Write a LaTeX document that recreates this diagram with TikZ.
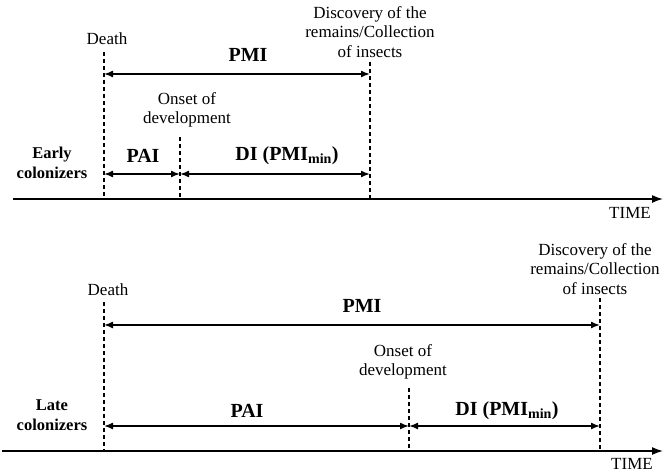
\documentclass[tikz,border=0pt]{standalone}
\usepackage{fontspec}
\setmainfont{Liberation Serif}
\usetikzlibrary{arrows.meta}
\begin{document}
\begin{tikzpicture}[x=1pt,y=-1pt,
  lbl/.style={font=\fontsize{17}{19.5}\selectfont, align=center, inner sep=0pt},
  big/.style={font=\fontsize{20}{23}\selectfont\bfseries, inner sep=0pt},
  grp/.style={font=\fontsize{16.5}{20}\selectfont\bfseries, align=center, inner sep=0pt},
  marker/.style={dash pattern=on 4pt off 3pt, line width=1.4pt},
  span/.style={{Latex[length=9pt,width=7pt]}-{Latex[length=9pt,width=7pt]}, line width=1.5pt},
  axisline/.style={-{Latex[length=11pt,width=8pt]}, line width=1.5pt}]
\useasboundingbox (0,0) rectangle (663,474);
\newcommand{\dilabel}{DI (PMI\textsubscript{\fontsize{14}{14}\selectfont min})}

% ---------- top panel: early colonizers ----------
\node[lbl] (death1) at (107,39) {Death};
\node[lbl] (disc1) at (370,32) {Discovery of the\\remains/Collection\\of insects};
\node[lbl] (onset1) at (187,110) {Onset of\\development};
\node[big] (pmi1) at (248,55) {PMI};
\node[big] (pai1) at (143,156) {PAI};
\node[big] (di1) at (287,156) {\dilabel};
\node[grp] (early) at (52,163) {Early\\colonizers};
\node[lbl] (time1) at (630,213) {TIME};

\coordinate (d1t) at (104,52);  \coordinate (d1b) at (104,199);
\coordinate (o1t) at (180,137); \coordinate (o1b) at (180,199);
\coordinate (c1t) at (370,62);  \coordinate (c1b) at (370,199);
\coordinate (a1s) at (13,199);  \coordinate (a1e) at (663,199);
\coordinate (p1l) at (104,74);  \coordinate (p1r) at (370,74);
\coordinate (s1l) at (104,174); \coordinate (s1m) at (180,174); \coordinate (s1r) at (370,174);

\draw[marker] (d1t) -- (d1b);
\draw[marker] (o1t) -- (o1b);
\draw[marker] (c1t) -- (c1b);
\draw[span] (p1l) -- (p1r);
\draw[span] (s1l) -- (s1m);
\draw[span] (s1m) -- (s1r);
\draw[axisline] (a1s) -- (a1e);

% ---------- bottom panel: late colonizers ----------
\node[lbl] (death2) at (108,290) {Death};
\node[lbl] (disc2) at (595,269) {Discovery of the\\remains/Collection\\of insects};
\node[lbl] (onset2) at (403,362) {Onset of\\development};
\node[big] (pmi2) at (362,306) {PMI};
\node[big] (pai2) at (247,411) {PAI};
\node[big] (di2) at (507,411) {\dilabel};
\node[grp] (late) at (52,415) {Late\\colonizers};
\node[lbl] (time2) at (632,464) {TIME};

\coordinate (d2t) at (104,302); \coordinate (d2b) at (104,451);
\coordinate (o2t) at (409,388); \coordinate (o2b) at (409,451);
\coordinate (c2t) at (600,298); \coordinate (c2b) at (600,451);
\coordinate (a2s) at (2,451);   \coordinate (a2e) at (663,451);
\coordinate (p2l) at (104,325); \coordinate (p2r) at (600,325);
\coordinate (s2l) at (104,426); \coordinate (s2m) at (409,426); \coordinate (s2r) at (600,426);

\draw[marker] (d2t) -- (d2b);
\draw[marker] (o2t) -- (o2b);
\draw[marker] (c2t) -- (c2b);
\draw[span] (p2l) -- (p2r);
\draw[span] (s2l) -- (s2m);
\draw[span] (s2m) -- (s2r);
\draw[axisline] (a2s) -- (a2e);
\end{tikzpicture}
\end{document}
